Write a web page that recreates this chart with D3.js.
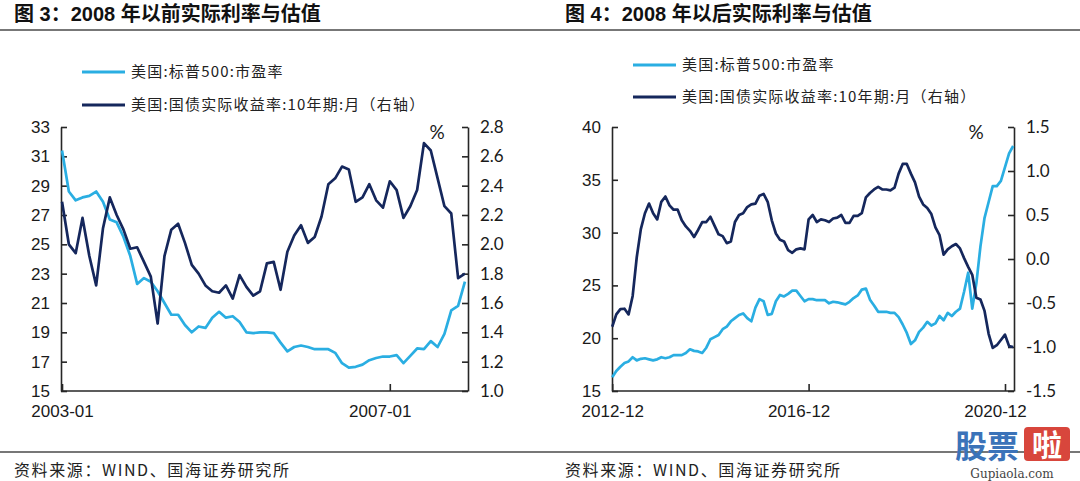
<!DOCTYPE html>
<html><head><meta charset="utf-8">
<script src="https://cdn.jsdelivr.net/npm/d3@7"></script>
<style>
html,body{margin:0;padding:0;background:#fff;}
svg{display:block;}
</style></head>
<body>
<svg id="chart" width="1080" height="481"></svg>
<script>
// ---------- DATA ----------
// Figure 3: monthly, 2003-01 .. 2007-12
const leftTickLabels = ["2003-01", "2007-01"];
const leftTickIndex = [0, 48];
const leftPE = [31.4,28.6,28.0,28.2,28.3,28.6,27.9,26.7,26.5,25.5,
  24.2,22.3,22.7,22.45,21.8,21.0,20.2,20.2,19.5,19.0,
  19.4,19.3,20.0,20.4,20.0,20.1,19.7,19.0,18.95,19.0,
  19.0,18.95,18.3,17.7,18.0,18.1,18.0,17.85,17.85,17.85,
  17.6,16.9,16.6,16.65,16.8,17.1,17.25,17.35,17.35,17.45,
  16.9,17.4,17.9,17.85,18.4,18.0,18.9,20.5,20.8,22.45];
const leftRealYield = [2.29,2.0,1.94,2.18,1.92,1.72,2.11,2.32,2.20,2.10,
  1.97,1.98,1.88,1.78,1.46,1.92,2.10,2.14,2.01,1.86,
  1.80,1.72,1.68,1.67,1.72,1.63,1.79,1.71,1.65,1.68,
  1.87,1.88,1.69,1.95,2.06,2.13,2.01,2.05,2.19,2.41,
  2.45,2.53,2.51,2.29,2.32,2.41,2.30,2.25,2.43,2.37,
  2.18,2.26,2.37,2.69,2.64,2.45,2.26,2.21,1.77,1.80];
const leftYTicks = [15,17,19,21,23,25,27,29,31,33];
const leftY2Ticks = [1.0,1.2,1.4,1.6,1.8,2.0,2.2,2.4,2.6,2.8];

// Figure 4: monthly, 2012-12 .. 2021-02
const rightTickLabels = ["2012-12", "2016-12", "2020-12"];
const rightTickIndex = [0, 48, 96];
const rightPE = [16.3,16.9,17.3,17.65,17.8,18.2,17.9,18.05,18.1,18.0,
  17.9,18.0,18.2,18.1,18.2,18.4,18.4,18.4,18.6,18.95,
  18.8,18.75,18.6,19.1,19.9,20.1,20.3,20.85,21.1,21.6,
  21.9,22.2,22.35,21.9,21.6,22.9,23.7,23.5,22.2,22.3,
  23.5,24.1,23.95,24.2,24.5,24.5,24.0,23.5,23.7,23.7,
  23.6,23.6,23.6,23.3,23.45,23.4,23.3,23.2,23.45,23.8,
  24.05,24.6,24.7,23.65,23.1,22.5,22.5,22.5,22.4,22.4,
  22.0,21.3,20.5,19.45,19.8,20.6,21.0,21.55,21.2,21.4,
  22.1,21.7,22.4,22.1,22.5,22.8,24.4,26.2,22.8,25.2,
  28.7,31.4,32.9,34.4,34.4,34.9,36.2,37.5,38.2];
const rightRealYield = [-0.77,-0.63,-0.57,-0.565,-0.63,-0.42,0.02,0.34,0.52,0.63,
  0.52,0.45,0.65,0.71,0.61,0.56,0.56,0.44,0.37,0.32,
  0.25,0.33,0.42,0.42,0.48,0.38,0.28,0.26,0.18,0.20,
  0.42,0.50,0.52,0.59,0.62,0.63,0.72,0.74,0.65,0.44,
  0.29,0.22,0.20,0.10,0.07,0.11,0.12,0.11,0.45,0.50,
  0.42,0.45,0.44,0.42,0.46,0.47,0.50,0.41,0.41,0.49,
  0.49,0.52,0.70,0.75,0.79,0.82,0.79,0.79,0.78,0.81,
  0.97,1.08,1.08,0.97,0.87,0.71,0.62,0.58,0.51,0.36,
  0.27,0.05,0.11,0.145,0.17,0.12,0.01,-0.09,-0.18,-0.44,
  -0.46,-0.59,-0.85,-1.01,-0.98,-0.92,-0.86,-0.99,-1.0];
const rightYTicks = [15,20,25,30,35,40];
const rightY2Ticks = [-1.5,-1.0,-0.5,0.0,0.5,1.0,1.5];

const seriesNames = ["美国:标普500:市盈率", "美国:国债实际收益率:10年期:月（右轴）"];
const titles = ["图 3：2008 年以前实际利率与估值", "图 4：2008 年以后实际利率与估值"];
const sourceText = "资料来源：WIND、国海证券研究所";

// ---------- STYLE ----------
const C_LIGHT = "#2aaee2";
const C_DARK = "#15275c";
const C_AXIS = "#262626";
const NUM_FONT = "'Liberation Sans', Arial, sans-serif";
const CAL_FONT = "Lato, 'Open Sans', sans-serif";
const CJK_FONT = "'Noto Sans CJK SC', 'Noto Sans', sans-serif";

const svg = d3.select("#chart");

// header / footer rules
svg.append("line").attr("x1",0).attr("x2",1080).attr("y1",30).attr("y2",30)
  .attr("stroke","#4a4a4a").attr("stroke-width",1.5);
svg.append("line").attr("x1",0).attr("x2",1080).attr("y1",452).attr("y2",452)
  .attr("stroke","#777").attr("stroke-width",2);

function panel(cfg) {
  const g = svg.append("g");
  // title
  g.append("text").attr("x", cfg.titleX).attr("y", 21)
    .attr("font-family", "'Liberation Sans', 'Noto Sans CJK SC', sans-serif")
    .attr("font-weight", "bold").attr("font-size", 20).attr("fill", "#111")
    .text(cfg.title);
  // source
  g.append("text").attr("x", cfg.titleX).attr("y", 476)
    .attr("font-family", CJK_FONT).attr("font-size", 16).attr("fill", "#222")
    .attr("letter-spacing", "1.6px")
    .text(sourceText);

  const x = d3.scaleLinear().domain(cfg.xDomain).range([cfg.x0, cfg.x1]);
  const y = d3.scaleLinear().domain(cfg.yDomain).range([391, 127]);
  const y2 = d3.scaleLinear().domain(cfg.y2Domain).range([391, 127]);

  // left axis
  const ax = g.append("g").attr("transform", `translate(${cfg.x0},0)`)
    .call(d3.axisLeft(y).tickValues(cfg.yTicks).tickSize(-6).tickSizeOuter(0).tickPadding(11)
      .tickFormat(d => String(d)));
  ax.selectAll("text").attr("font-family", NUM_FONT).attr("font-size", 17).attr("fill", "#1a1a1a");
  // right axis
  const ax2 = g.append("g").attr("transform", `translate(${cfg.x1},0)`)
    .call(d3.axisRight(y2).tickValues(cfg.y2Ticks).tickSize(-6).tickSizeOuter(0).tickPadding(12)
      .tickFormat(d => d.toFixed(1)));
  ax2.selectAll("text").attr("font-family", CAL_FONT).attr("font-size", 17).attr("fill", "#1a1a1a");
  // bottom axis
  const axb = g.append("g").attr("transform", `translate(0,391)`)
    .call(d3.axisBottom(x).tickValues(cfg.xTickIndex).tickSize(-7).tickSizeOuter(0).tickPadding(14)
      .tickFormat((d, i) => cfg.xTickLabels[i]));
  axb.selectAll("text").attr("font-family", NUM_FONT).attr("font-size", 17).attr("fill", "#1a1a1a")
    .attr("dx", (d, i) => i === 0 ? 0 : -10);
  axb.select(".domain").attr("d", `M${cfg.x0},0H${cfg.x1}`);
  [ax, ax2, axb].forEach(a => {
    a.selectAll(".domain, line").attr("stroke", C_AXIS).attr("stroke-width", 1.6);
  });

  // % label
  g.append("text").attr("x", cfg.pctX).attr("y", 139).attr("text-anchor", "middle")
    .attr("font-family", CAL_FONT).attr("font-size", 19).attr("fill", "#1a1a1a").text("%");

  // lines
  const lineL = d3.line().x((d, i) => x(i)).y(d => y(d));
  const lineR = d3.line().x((d, i) => x(i)).y(d => y2(d));
  g.append("path").datum(cfg.pe).attr("d", lineL).attr("fill", "none")
    .attr("stroke", C_LIGHT).attr("stroke-width", 2.7).attr("stroke-linejoin", "round");
  g.append("path").datum(cfg.ry).attr("d", lineR).attr("fill", "none")
    .attr("stroke", C_DARK).attr("stroke-width", 2.7).attr("stroke-linejoin", "round");

  // legend
  const lg = g.append("g");
  [C_LIGHT, C_DARK].forEach((c, i) => {
    const yy = cfg.legY[i];
    lg.append("line").attr("x1", cfg.legX).attr("x2", cfg.legX + 43).attr("y1", yy).attr("y2", yy)
      .attr("stroke", c).attr("stroke-width", 3);
    lg.append("text").attr("x", cfg.legX + 49).attr("y", yy).attr("dy", "0.36em")
      .attr("font-family", CJK_FONT).attr("font-size", 15).attr("fill", "#222")
      .attr("letter-spacing", "1.2px")
      .text(seriesNames[i]);
  });
}

panel({
  title: titles[0], titleX: 14,
  x0: 61, x1: 468, xDomain: [-0.15, 59.45],
  yDomain: [15, 33], y2Domain: [1.0, 2.8],
  yTicks: leftYTicks, y2Ticks: leftY2Ticks,
  xTickIndex: leftTickIndex, xTickLabels: leftTickLabels,
  pe: leftPE, ry: leftRealYield,
  pctX: 437, legX: 82, legY: [72, 105]
});
panel({
  title: titles[1], titleX: 565,
  x0: 612, x1: 1014, xDomain: [-0.05, 98.2],
  yDomain: [15, 40], y2Domain: [-1.5, 1.5],
  yTicks: rightYTicks, y2Ticks: rightY2Ticks,
  xTickIndex: rightTickIndex, xTickLabels: rightTickLabels,
  pe: rightPE, ry: rightRealYield,
  pctX: 976, legX: 633, legY: [65, 97]
});

// watermark
const wm = svg.append("g");
wm.append("text").attr("x", 955).attr("y", 458).attr("font-family", CJK_FONT)
  .attr("font-weight", "bold").attr("font-size", 32).attr("fill", "#3b73b9").text("股票");
wm.append("rect").attr("x", 1024).attr("y", 427).attr("width", 46).attr("height", 34)
  .attr("rx", 4).attr("fill", "#d8463c");
wm.append("text").attr("x", 1047).attr("y", 456).attr("text-anchor", "middle").attr("font-family", CJK_FONT)
  .attr("font-weight", "bold").attr("font-size", 30).attr("fill", "#fff").text("啦");
wm.append("text").attr("x", 1012).attr("y", 478).attr("text-anchor", "middle")
  .attr("font-family", "'DejaVu Serif', serif").attr("font-size", 12).attr("fill", "#444")
  .text("Gupiaola.com");
</script>
</body></html>
